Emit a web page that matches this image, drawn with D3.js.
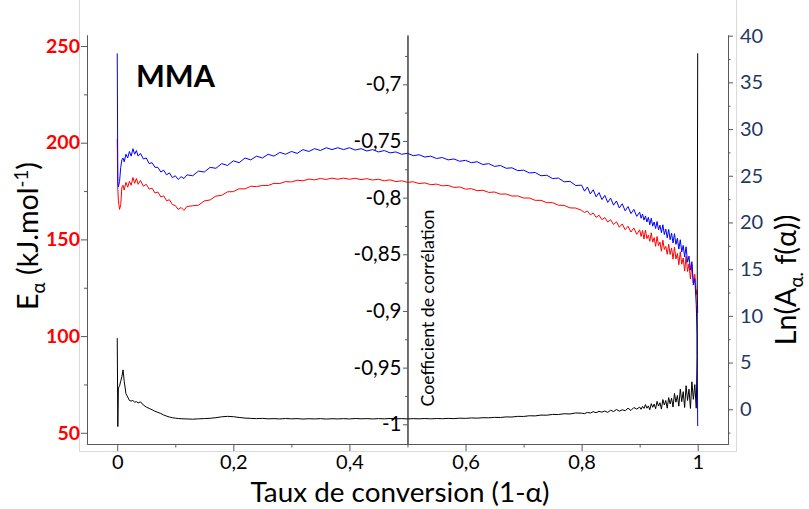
<!DOCTYPE html>
<html><head><meta charset="utf-8">
<script src="https://cdn.jsdelivr.net/npm/d3@7"></script>
<style>
body{margin:0;background:#fff}
svg{display:block}
text{font-family:Lato,"Open Sans","DejaVu Sans",sans-serif}
</style>
</head><body>
<svg id="chart" width="809" height="509"></svg>
<script>
// ---------- DATA ----------
const conversion = [
 0,0.001,0.002,0.004,0.006,0.008,0.01,0.012,0.015,0.018,0.021,0.024,0.027,0.03,0.033,0.036,0.04,0.045,0.05,0.055,0.06,0.065,0.07,0.075,0.08,0.085,0.09,0.095,0.1,0.105,0.11,0.115,0.12,
 0.13,0.14,0.15,0.16,0.17,0.18,0.19,0.20,0.21,0.22,0.23,0.24,0.25,0.26,0.27,0.28,0.29,0.30,0.31,0.32,0.33,0.34,0.35,0.36,0.37,0.38,0.39,0.40,
 0.41,0.42,0.43,0.44,0.45,0.46,0.47,0.48,0.49,0.50,0.51,0.52,0.53,0.54,0.55,0.56,0.57,0.58,0.59,0.60,
 0.61,0.62,0.63,0.64,0.65,0.66,0.67,0.68,0.69,0.70,0.71,0.72,0.73,0.74,0.75,0.76,0.77,0.78,0.79,0.80,
 0.805,0.81,0.815,0.82,0.825,0.83,0.835,0.84,0.845,0.85,0.855,0.86,0.865,0.87,0.875,0.88,0.885,0.89,0.895,0.90,
 0.9025,0.905,0.9075,0.91,0.9125,0.915,0.9175,0.92,0.9225,0.925,0.9275,0.93,0.9325,0.935,0.9375,0.94,0.9425,0.945,0.9475,0.95,
 0.9525,0.955,0.9575,0.96,0.9625,0.965,0.9675,0.97,0.9725,0.975,0.9775,0.98,0.9825,0.985,0.9875,0.99,0.9925,0.995,0.9975,
 0.999,1.0
];
// Activation energy E_alpha (kJ/mol) - left axis, red
const E_alpha = [
 202,176,170,165.5,168,177,178,175.5,179.5,177,180,178,182,179,181.5,178.5,180.5,177.5,178.5,176,176.5,174,174.5,172,172.5,170,170.5,168,167.5,165.5,166.5,165,167,
 167.4,167.7,169.9,170.4,172.4,172.8,174.6,174.7,176.2,176.1,177.5,177.3,177.9,177.9,179.0,178.9,179.9,179.7,180.6,180.3,181.2,180.8,181.5,181.0,181.7,181.1,181.7,181.1,
 181.6,180.9,181.4,180.7,181.1,180.3,180.8,179.9,180.3,179.5,179.8,178.9,179.2,178.3,178.6,177.7,177.9,176.9,177.1,176.0,
 176.2,175.2,175.4,174.3,174.5,173.4,173.5,172.4,172.5,171.4,171.4,170.2,170.2,169.0,169.0,167.7,167.6,166.3,166.2,165.0,
 163.9,164.7,162.7,163.6,161.4,162.5,160.2,161.3,159,160.2,157.7,159.1,156.3,158,155,156.8,153.8,155.9,152.6,155,
 151.5,154.6,150.2,154.8,150.4,152.2,149.0,153.4,148.6,150.9,146.4,151.5,146.8,148.6,143.9,149.6,144.8,146.4,142.3,147.5,
 142.2,145.6,139.8,146.0,139.9,142.7,136.9,143.6,137.2,140.4,133.6,141.2,133.4,137.4,129.5,137.0,127.5,132.0,121.5,
 124,112
];
// Ln(A_alpha f(alpha)) - right axis, blue
const lnA = [
 38.1,24.2,23.8,24.4,25.9,26.7,26.9,26.5,27.3,26.9,27.6,27.1,27.9,27.3,27.7,27.1,27.4,26.8,26.9,26.3,26.4,25.9,25.9,25.4,25.6,25.1,25.3,24.8,25,24.6,24.9,24.7,25.1,
 25.0,25.5,25.4,25.9,25.8,26.3,26.1,26.6,26.4,26.9,26.7,27.1,26.9,27.3,27.1,27.5,27.3,27.6,27.4,27.8,27.6,27.9,27.7,28.0,27.8,28.0,27.8,28.0,
 27.75,27.9,27.65,27.8,27.55,27.7,27.45,27.55,27.3,27.4,27.15,27.25,27.0,27.1,26.85,26.95,26.7,26.8,26.55,26.65,
 26.4,26.5,26.2,26.3,26.0,26.1,25.8,25.85,25.55,25.6,25.3,25.35,25.0,25.05,24.7,24.75,24.35,24.4,23.95,24.0,
 23.35,23.8,23.05,23.5,22.75,23.2,22.45,22.9,22.15,22.6,21.85,22.3,21.55,22.0,21.25,21.7,20.95,21.4,20.65,21.1,
 20.45,20.9,20.25,20.7,20.05,20.55,19.75,20.45,19.6,20.05,19.35,20.1,19.2,19.7,18.9,19.75,18.7,19.3,18.35,19.25,
 18.15,18.85,17.8,18.8,17.65,18.3,17.15,18.15,16.85,17.55,16.3,17.4,15.75,16.4,14.9,15.8,13.3,14.0,11.2,
 8,-1.8
];
// Correlation coefficient - middle axis, black
const corr = [
 -0.924,-1.002,-0.968,-0.966,-0.962,-0.958,-0.952,-0.962,-0.973,-0.976,-0.979,-0.9795,-0.979,-0.9805,-0.98,-0.9812,-0.9802,-0.983,-0.9848,-0.986,-0.9872,-0.9885,-0.9895,-0.9905,-0.9918,-0.9928,-0.9936,-0.9942,-0.9946,-0.9949,-0.9951,-0.9952,-0.9953,
 -0.9955,-0.9952,-0.9950,-0.9947,-0.9942,-0.9934,-0.9930,-0.9933,-0.9940,-0.9945,-0.9948,-0.9950,-0.9948,-0.9952,-0.9950,-0.9953,-0.9949,-0.9952,-0.9950,-0.9954,-0.9951,-0.9953,-0.9950,-0.9954,-0.9951,-0.9953,-0.9950,-0.9953,
 -0.9949,-0.9952,-0.9950,-0.9953,-0.9950,-0.9952,-0.9949,-0.9952,-0.9950,-0.9953,-0.9950,-0.9952,-0.9949,-0.9952,-0.9949,-0.9951,-0.9948,-0.9950,-0.9946,-0.9948,
 -0.9944,-0.9946,-0.9942,-0.9943,-0.9939,-0.9940,-0.9935,-0.9936,-0.9930,-0.9931,-0.9925,-0.9926,-0.9919,-0.9920,-0.9913,-0.9914,-0.9907,-0.9909,-0.9900,-0.9902,
 -0.9906,-0.9895,-0.9901,-0.9889,-0.9898,-0.9886,-0.9893,-0.9883,-0.9895,-0.9876,-0.9888,-0.9870,-0.9884,-0.9872,-0.9880,-0.9858,-0.9878,-0.9852,-0.9866,-0.9848,
 -0.9868,-0.9842,-0.9860,-0.9826,-0.9858,-0.9838,-0.9872,-0.9818,-0.9850,-0.9822,-0.9862,-0.9798,-0.9840,-0.9810,-0.9866,-0.9782,-0.9830,-0.9790,-0.9858,-0.9765,
 -0.9820,-0.9770,-0.9848,-0.9728,-0.9805,-0.9745,-0.9840,-0.9690,-0.9800,-0.9712,-0.9852,-0.9660,-0.9790,-0.9690,-0.9860,-0.9625,-0.9780,-0.9650,-0.9858,
 -0.940,-0.6726
];

const xMajorTicks = [0,0.2,0.4,0.6,0.8,1];
const xTickLabels = ["0","0,2","0,4","0,6","0,8","1"];
const xMinorTicks = [0.1,0.3,0.5,0.7,0.9];
const eTicks = [50,100,150,200,250];
const eTickLabels = ["50","100","150","200","250"];
const eMinorTicks = [75,125,175,225];
const corrTicks = [-1,-0.95,-0.9,-0.85,-0.8,-0.75,-0.7];
const corrTickLabels = ["-1","-0,95","-0,9","-0,85","-0,8","-0,75","-0,7"];
const corrMinorTicks = [-0.975,-0.925,-0.875,-0.825,-0.775,-0.725,-0.675];
const lnTicks = [0,5,10,15,20,25,30,35,40];
const lnTickLabels = ["0","5","10","15","20","25","30","35","40"];
const lnMinorTicks = [-2.5,2.5,7.5,12.5,17.5,22.5,27.5,32.5,37.5];

// ---------- LAYOUT ----------
const svg = d3.select("#chart");
const L = 87, R = 728, T = 35, B = 444;
const x  = d3.scaleLinear().domain([-0.0521, 1.0522]).range([L, R]);
const yE = d3.scaleLinear().domain([44.2, 255.7]).range([B, T]);
const yC = d3.scaleLinear().domain([-1.0174, -0.6565]).range([B, T]);
const yL = d3.scaleLinear().domain([-3.72, 40.07]).range([B, T]);

const axisCol = "#595959";
svg.append("g").attr("stroke", "#d9d9d9").attr("stroke-width", 1).call(g => {
  g.append("line").attr("x1", 79.5).attr("x2", 79.5).attr("y1", 0).attr("y2", 451.5);
  g.append("line").attr("x1", 736.5).attr("x2", 736.5).attr("y1", 0).attr("y2", 451.5);
  g.append("line").attr("x1", 79.5).attr("x2", 736.5).attr("y1", 451.5).attr("y2", 451.5);
});

function styleAxis(g, col, fs, weight) {
  g.select(".domain").attr("stroke", axisCol);
  g.selectAll(".tick line").attr("stroke", axisCol);
  g.selectAll(".tick text").attr("fill", col).attr("font-size", fs).attr("font-weight", weight)
    .attr("font-family", "Lato, 'Open Sans', sans-serif");
}
function plainAxis(g, dom) {
  g.select(".domain").attr("stroke", dom || axisCol);
  g.selectAll(".tick line").attr("stroke", axisCol);
}

// X axis (bottom)
svg.append("g").attr("transform", `translate(0,${B})`)
  .call(d3.axisBottom(x).tickValues(xMinorTicks).tickSize(3.5).tickFormat("").tickSizeOuter(0))
  .call(g => plainAxis(g));
svg.append("g").attr("transform", `translate(0,${B})`)
  .call(d3.axisBottom(x).tickValues(xMajorTicks).tickSize(7).tickPadding(4)
    .tickFormat((d, i) => xTickLabels[i]).tickSizeOuter(0))
  .call(g => styleAxis(g, "#000", 20, "normal"));

// Left axis (E alpha)
svg.append("g").attr("transform", `translate(${L},0)`)
  .call(d3.axisLeft(yE).tickValues(eMinorTicks).tickSize(3).tickFormat("").tickSizeOuter(0))
  .call(g => plainAxis(g));
svg.append("g").attr("transform", `translate(${L},0)`)
  .call(d3.axisLeft(yE).tickValues(eTicks).tickSize(6).tickPadding(1)
    .tickFormat((d, i) => eTickLabels[i]).tickSizeOuter(0))
  .call(g => styleAxis(g, "#ff0000", 19.5, "bold"));

// Middle axis (correlation)
const xm = x(0.5);
svg.append("g").attr("transform", `translate(${xm},0)`)
  .call(d3.axisLeft(yC).tickValues(corrMinorTicks.filter(v => v > -1.0174 && v < -0.6565)).tickSize(2.5).tickFormat("").tickSizeOuter(0))
  .call(g => plainAxis(g, "#404040"));
svg.append("g").attr("transform", `translate(${xm},0)`)
  .call(d3.axisLeft(yC).tickValues(corrTicks).tickSize(4.5).tickPadding(1.5)
    .tickFormat((d, i) => corrTickLabels[i]).tickSizeOuter(0))
  .call(g => styleAxis(g, "#000", 20.5, "normal"))
  .call(g => g.select(".domain").attr("stroke", "#404040"));

// Right axis (ln A)
svg.append("g").attr("transform", `translate(${R},0)`)
  .call(d3.axisRight(yL).tickValues(lnMinorTicks).tickSize(2.5).tickFormat("").tickSizeOuter(0))
  .call(g => plainAxis(g));
svg.append("g").attr("transform", `translate(${R},0)`)
  .call(d3.axisRight(yL).tickValues(lnTicks).tickSize(5).tickPadding(7)
    .tickFormat((d, i) => lnTickLabels[i]).tickSizeOuter(0))
  .call(g => styleAxis(g, "#1f3864", 20, "normal"));

// ---------- CURVES ----------
function drawSeries(vals, yScale, color) {
  const pts = conversion.map((c, i) => [c, vals[i]]).filter(p => p[1] !== undefined);
  svg.append("path").datum(pts)
    .attr("fill", "none").attr("stroke", color).attr("stroke-width", 1)
    .attr("stroke-linejoin", "round")
    .attr("d", d3.line().x(d => x(d[0])).y(d => yScale(d[1])));
}
drawSeries(E_alpha, yE, "#ff0000");
drawSeries(lnA, yL, "#0000ff");
drawSeries(corr, yC, "#000000");

// ---------- TEXT ----------
function fit(sel, target) {
  const w = sel.node().getComputedTextLength();
  const fs = parseFloat(sel.attr("font-size"));
  sel.attr("font-size", fs * target / w);
}

const mma = svg.append("text").attr("x", 136).attr("y", 87).attr("font-size", 31)
  .attr("font-weight", "bold").attr("fill", "#000").text("MMA");
fit(mma, 79);

const xt = svg.append("text").attr("x", 400).attr("y", 502).attr("text-anchor", "middle")
  .attr("font-size", 27).attr("fill", "#000").text("Taux de conversion (1-α)");
fit(xt, 299);

const lt = svg.append("text").attr("transform", "translate(38,236) rotate(-90)")
  .attr("text-anchor", "middle").attr("font-size", 28).attr("fill", "#000");
lt.append("tspan").text("E");
lt.append("tspan").attr("font-size", "0.65em").attr("dy", "0.4em").text("α");
lt.append("tspan").attr("dy", "-0.26em").text(" (kJ.mol");
lt.append("tspan").attr("font-size", "0.65em").attr("dy", "-0.55em").text("-1");
lt.append("tspan").attr("dy", "0.3575em").text(")");
fit(lt, 148);
const titleFs = parseFloat(lt.attr("font-size"));

const rt = svg.append("text").attr("transform", "translate(796,280) rotate(-90)")
  .attr("text-anchor", "middle").attr("font-size", titleFs).attr("fill", "#000");
rt.append("tspan").text("Ln(A");
rt.append("tspan").attr("font-size", "0.65em").attr("dy", "0.4em").text("α.");
rt.append("tspan").attr("dy", "-0.26em").text(" f(α))");

const ct = svg.append("text").attr("transform", "translate(434,308) rotate(-90)")
  .attr("text-anchor", "middle").attr("font-size", 17).attr("fill", "#000")
  .text("Coefficient de corrélation");
fit(ct, 197);
</script>
</body></html>
